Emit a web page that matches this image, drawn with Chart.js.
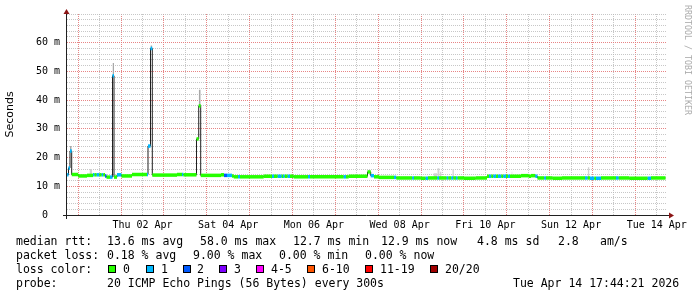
<!DOCTYPE html>
<html>
<head>
<meta charset="utf-8">
<script src="https://cdn.jsdelivr.net/npm/chart.js@4"></script>
<style>
body { margin: 0; background: #fff; }
#wrap { position: relative; width: 697px; height: 297px; overflow: hidden; }
#chart { position: absolute; left: 0; top: 0; }
.leg { position: absolute; font-family: "DejaVu Sans Mono", monospace; font-size: 11.5px; line-height: 14px; white-space: pre; color: #000; }
.box { position: absolute; top: 265px; width: 6px; height: 6px; border: 1px solid #000; }
#mark { position: absolute; left: 692px; top: 5px; transform: rotate(90deg); transform-origin: 0 0; font-family: "DejaVu Sans Mono", monospace; font-size: 8.3px; line-height: 9px; color: #ababab; white-space: pre; }
</style>
</head>
<body>
<div id="wrap">
	<canvas id="chart" width="697" height="297"></canvas>
	<div id="mark">RRDTOOL / TOBI OETIKER</div>

	<div class="leg" style="left:16px;top:234px">median rtt:</div>
	<div class="leg" style="left:107px;top:234px">13.6 ms avg</div>
	<div class="leg" style="left:200px;top:234px">58.0 ms max</div>
	<div class="leg" style="left:293px;top:234px">12.7 ms min</div>
	<div class="leg" style="left:381px;top:234px">12.9 ms now</div>
	<div class="leg" style="left:477px;top:234px">4.8 ms sd</div>
	<div class="leg" style="left:558px;top:234px">2.8</div>
	<div class="leg" style="left:600px;top:234px">am/s</div>

	<div class="leg" style="left:16px;top:248px">packet loss:</div>
	<div class="leg" style="left:107px;top:248px">0.18 % avg</div>
	<div class="leg" style="left:193px;top:248px">9.00 % max</div>
	<div class="leg" style="left:279px;top:248px">0.00 % min</div>
	<div class="leg" style="left:365px;top:248px">0.00 % now</div>

	<div class="leg" style="left:16px;top:262px">loss color:</div>
	<div class="box" style="left:108px;background:#26ff00"></div>
	<div class="leg" style="left:123px;top:262px">0</div>
	<div class="box" style="left:146px;background:#00b8ff"></div>
	<div class="leg" style="left:161px;top:262px">1</div>
	<div class="box" style="left:183px;background:#0059ff"></div>
	<div class="leg" style="left:197px;top:262px">2</div>
	<div class="box" style="left:219px;background:#7e00ff"></div>
	<div class="leg" style="left:234px;top:262px">3</div>
	<div class="box" style="left:256px;background:#ff00ff"></div>
	<div class="leg" style="left:271px;top:262px">4-5</div>
	<div class="box" style="left:307px;background:#ff5500"></div>
	<div class="leg" style="left:322px;top:262px">6-10</div>
	<div class="box" style="left:365px;background:#ff0000"></div>
	<div class="leg" style="left:380px;top:262px">11-19</div>
	<div class="box" style="left:430px;background:#a00000"></div>
	<div class="leg" style="left:445px;top:262px">20/20</div>

	<div class="leg" style="left:16px;top:276px">probe:</div>
	<div class="leg" style="left:107px;top:276px">20 ICMP Echo Pings (56 Bytes) every 300s</div>
	<div class="leg" style="left:513px;top:276px">Tue Apr 14 17:44:21 2026</div>
</div>
<script>
// hours are counted from Wed 01 Apr 00:00; the graph runs until Tue 14 Apr 17:44
const startHour = -6.27;
const endHour = 329.73;
const dataEnd = 328.9;

// median rtt steps: start hour, median (ms), pings lost out of 20
const stepHours = [
	-6.2, -5.43, -4.59, -3.64, 0.0, 4.93, 8.29, 9.13, 10.36, 11.82,
	13.16, 14.06, 15.01, 15.85, 17.81, 19.21, 20.05, 21.73, 24.25, 30.13,
	38.53, 39.09, 40.49, 41.5, 55.33, 58.13, 58.97, 66.25, 67.5, 68.6,
	79.97, 81.65, 83.33, 86.13, 87.08, 89.49, 90.61, 103.88, 108.53, 109.65,
	111.72, 113.96, 114.69, 115.64, 117.32, 118.61, 120.68, 128.69, 129.81, 148.68,
	149.97, 151.48, 162.01, 163.8, 165.65, 168.45, 176.85, 178.14, 187.1, 188.05,
	191.8, 194.6, 195.89, 201.1, 202.05, 206.36, 207.26, 208.94, 210.06, 211.57,
	212.52, 216.05, 222.6, 228.93, 230.05, 231.34, 232.46, 233.97, 235.09, 236.94,
	238.06, 239.57, 240.69, 241.81, 247.97, 252.28, 253.57, 255.98, 257.21, 261.02,
	261.97, 265.72, 270.93, 283.81, 285.32, 286.61, 289.02, 289.97, 292.77, 301.17,
	302.68, 308.61, 318.92, 320.77
];
const medianMs = [
	14.0, 16.4, 22.3, 14.1, 13.6, 13.8, 14.0, 14.0, 14.0, 14.0,
	14.0, 14.0, 13.6, 13.2, 13.2, 48.5, 13.2, 14.0, 13.6, 14.1,
	14.1, 24.0, 58.0, 13.9, 14.1, 14.1, 14.0, 26.5, 38.0, 13.8,
	14.0, 13.8, 13.8, 13.6, 13.3, 13.3, 13.3, 13.5, 13.5, 13.5,
	13.5, 13.5, 13.5, 13.5, 13.5, 13.5, 13.3, 13.3, 13.3, 13.3,
	13.3, 13.5, 15.0, 13.7, 13.3, 13.1, 13.1, 12.9, 12.9, 12.9,
	12.8, 12.8, 12.9, 12.9, 12.9, 12.9, 12.9, 12.9, 12.9, 12.9,
	12.9, 12.8, 12.9, 13.5, 13.5, 13.5, 13.5, 13.5, 13.5, 13.5,
	13.5, 13.5, 13.5, 13.5, 13.7, 13.5, 13.7, 13.5, 12.9, 12.9,
	12.9, 12.8, 12.9, 12.9, 12.9, 12.8, 12.8, 12.8, 12.9, 12.9,
	12.9, 12.8, 12.8, 12.9
];
const lostPings = [
	1, 1, 1, 0, 0, 0, 1, 0, 1, 0,
	1, 0, 2, 0, 1, 1, 0, 1, 0, 0,
	1, 1, 1, 0, 0, 1, 0, 0, 0, 0,
	0, 2, 1, 0, 0, 1, 0, 0, 1, 0,
	1, 0, 1, 0, 1, 0, 0, 1, 0, 1,
	0, 0, 0, 1, 0, 0, 1, 0, 1, 0,
	0, 1, 0, 1, 0, 1, 0, 1, 0, 1,
	0, 0, 0, 0, 1, 0, 1, 0, 1, 0,
	1, 0, 1, 0, 0, 0, 0, 1, 0, 1,
	0, 0, 0, 1, 0, 1, 0, 1, 0, 1,
	0, 0, 1, 0
];

// smoke (spread of the pings) around the spikes and a few noisy spots
const darkSmokeStart = [-4.59, 19.21, 40.49, 67.5];
const darkSmokeEnd = [-3.64, 20.05, 41.5, 68.6];
const darkSmokeLow = [22.3, 48.5, 58.0, 38.0];
const darkSmokeHigh = [24.0, 52.9, 59.0, 43.6];

const lightSmokeStart = [6.33, 198.9, 201.1, 202.4, 209.5, 242.65, 285.32];
const lightSmokeEnd = [7.73, 201.1, 202.4, 203.5, 210.4, 243.2, 286.3];
const lightSmokeLow = [14.0, 13.0, 13.0, 13.0, 13.0, 13.6, 13.0];
const lightSmokeHigh = [16.0, 14.5, 16.3, 15.1, 15.9, 15.1, 16.6];

// x axis: labels sit at noon every second day
const labelHours = [36, 84, 132, 180, 228, 276, 324];
const dayLabels = ["Thu 02 Apr", "Sat 04 Apr", "Mon 06 Apr", "Wed 08 Apr", "Fri 10 Apr", "Sun 12 Apr", "Tue 14 Apr"];

const lossColors = ["#26ff00", "#00b8ff", "#0059ff", "#7e00ff", "#ff00ff", "#ff5500", "#ff0000", "#a00000"];

function lossColor(n) {
	if (n <= 3) return lossColors[n];
	if (n <= 5) return lossColors[4];
	if (n <= 10) return lossColors[5];
	if (n <= 19) return lossColors[6];
	return lossColors[7];
}

// colored pieces: one flat piece per step, split by gaps
const pieces = [];
for (let i = 0; i < stepHours.length; i++) {
	const t1 = i + 1 < stepHours.length ? stepHours[i + 1] : dataEnd;
	pieces.push({ x: stepHours[i], y: medianMs[i], loss: lostPings[i] });
	pieces.push({ x: t1, y: medianMs[i], loss: lostPings[i] });
	pieces.push({ x: t1, y: null });
}

const medianLine = stepHours.map((h, i) => ({ x: h, y: medianMs[i] }));
medianLine.push({ x: dataEnd, y: medianMs[medianMs.length - 1] });

function smokePoints(starts, ends, values) {
	const pts = [];
	for (let i = 0; i < starts.length; i++) {
		pts.push({ x: starts[i], y: values[i] });
		pts.push({ x: ends[i], y: values[i] });
		pts.push({ x: ends[i], y: null });
	}
	return pts;
}

const xTicks = [];
for (let h = 0; h <= endHour; h += 12) xTicks.push(h);

const rrdAxes = {
	id: "rrdAxes",
	afterDatasetsDraw(chart) {
		const ctx = chart.ctx;
		const a = chart.chartArea;
		const y0 = Math.round(a.bottom) + 0.5;
		const x0 = Math.round(a.left) - 0.5;
		ctx.save();
		ctx.strokeStyle = "#202020";
		ctx.lineWidth = 1;
		ctx.beginPath();
		ctx.moveTo(a.left - 4, y0);
		ctx.lineTo(a.right + 3, y0);
		ctx.moveTo(x0, a.bottom + 4);
		ctx.lineTo(x0, a.top - 2);
		ctx.stroke();
		ctx.fillStyle = "#8b1515";
		ctx.beginPath();
		ctx.moveTo(a.right + 7, y0);
		ctx.lineTo(a.right + 2, y0 - 3);
		ctx.lineTo(a.right + 2, y0 + 3);
		ctx.closePath();
		ctx.fill();
		ctx.beginPath();
		ctx.moveTo(x0, a.top - 5);
		ctx.lineTo(x0 - 3, a.top);
		ctx.lineTo(x0 + 3, a.top);
		ctx.closePath();
		ctx.fill();
		ctx.restore();
	}
};

const monoFont = { family: "DejaVu Sans Mono", size: 10 };
const minorGrid = "rgba(180,180,180,0.75)";
const majorGrid = "rgba(228,120,120,0.9)";

new Chart(document.getElementById("chart"), {
	type: "line",
	data: {
		datasets: [
			{
				data: pieces,
				borderWidth: 3.5,
				borderCapStyle: "butt",
				pointRadius: 0,
				spanGaps: false,
				segment: {
					borderColor: (c) => lossColor(pieces[c.p0DataIndex].loss)
				}
			},
			{
				data: medianLine,
				stepped: true,
				borderColor: "#202020",
				borderWidth: 1,
				pointRadius: 0
			},
			{
				data: smokePoints(darkSmokeStart, darkSmokeEnd, darkSmokeHigh),
				borderWidth: 0,
				pointRadius: 0,
				spanGaps: false,
				backgroundColor: "#a8a8a8",
				fill: { target: 3 }
			},
			{
				data: smokePoints(darkSmokeStart, darkSmokeEnd, darkSmokeLow),
				borderWidth: 0,
				pointRadius: 0,
				spanGaps: false,
				fill: false
			},
			{
				data: smokePoints(lightSmokeStart, lightSmokeEnd, lightSmokeHigh),
				borderWidth: 0,
				pointRadius: 0,
				spanGaps: false,
				backgroundColor: "#d2d2d2",
				fill: { target: 5 }
			},
			{
				data: smokePoints(lightSmokeStart, lightSmokeEnd, lightSmokeLow),
				borderWidth: 0,
				pointRadius: 0,
				spanGaps: false,
				fill: false
			}
		]
	},
	options: {
		responsive: false,
		animation: false,
		devicePixelRatio: 1,
		layout: { padding: { left: 0, right: 30, top: 14, bottom: 0 } },
		plugins: { legend: { display: false }, tooltip: { enabled: false } },
		scales: {
			x: {
				type: "linear",
				min: startHour,
				max: endHour,
				afterBuildTicks: (scale) => {
					scale.ticks = xTicks.map((v) => ({ value: v }));
				},
				afterFit: (scale) => { scale.height = 82; },
				grid: {
					drawTicks: false,
					color: (c) => (c.tick && Math.round(c.tick.value) % 24 === 0 ? majorGrid : minorGrid)
				},
				border: { display: false, dash: [1, 1] },
				ticks: {
					autoSkip: false,
					maxRotation: 0,
					padding: 4,
					color: "#000",
					font: monoFont,
					callback: (v) => {
						const i = labelHours.indexOf(v);
						return i >= 0 ? dayLabels[i] : "";
					}
				}
			},
			y: {
				min: 0,
				max: 70,
				afterFit: (scale) => { scale.width = 67; },
				grid: {
					drawTicks: false,
					color: (c) => (c.tick && c.tick.value % 10 === 0 && c.tick.value < 70 ? majorGrid : minorGrid)
				},
				border: { display: false, dash: [1, 1] },
				title: {
					display: true,
					text: "Seconds",
					color: "#000",
					font: { family: "DejaVu Sans", size: 11 },
					padding: { top: 4, bottom: 0 }
				},
				ticks: {
					stepSize: 2,
					autoSkip: false,
					padding: 7,
					color: "#000",
					font: monoFont,
					callback: (v) => {
						if (v % 10 !== 0 || v >= 70) return "";
						return v === 0 ? "0  " : v + " m";
					}
				}
			}
		}
	},
	plugins: [rrdAxes]
});
</script>
</body>
</html>
